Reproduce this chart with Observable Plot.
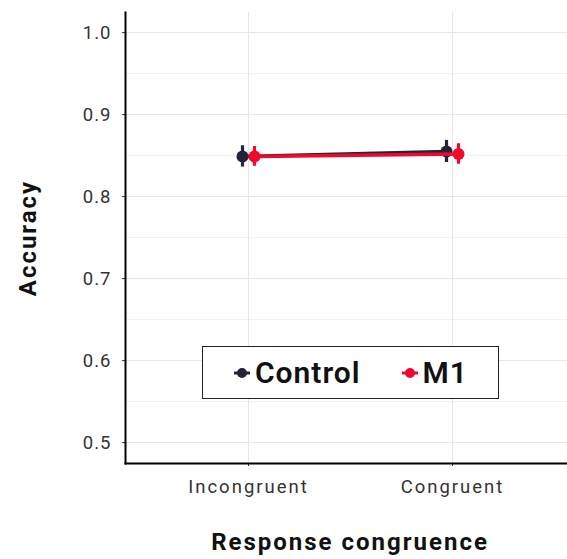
<!DOCTYPE html>
<html>
<head>
<meta charset="utf-8">
<script src="https://cdn.jsdelivr.net/npm/d3@7"></script>
<script src="https://cdn.jsdelivr.net/npm/@observablehq/plot@0.6"></script>
<style>
  html, body { margin: 0; padding: 0; background: #fff; overflow: hidden; }
  #wrap { position: relative; width: 567px; height: 559px; overflow: hidden; font-family: Roboto, "DejaVu Sans", sans-serif; }
  #chart svg { max-width: none !important; }
  #chart svg g[aria-label="y-axis tick label"] text { letter-spacing: 1px; }
  #chart svg g[aria-label="x-axis tick label"] text { letter-spacing: 2px; }
  #chart svg g[aria-label="text"] text { letter-spacing: 2px; }
  #legend { position: absolute; left: 202px; top: 346px; width: 295px; height: 51px; border: 1.5px solid #222; background: #fff;
            display: flex; align-items: center; justify-content: center; font-size: 30px; font-weight: 600; color: #111; letter-spacing: 1px; }
  #legend .item { display: flex; align-items: center; }
  #legend svg { margin-right: 4px; }
</style>
</head>
<body>
<div id="wrap">
  <div id="chart"></div>
  <div id="legend"></div>
</div>
<script>
const categories = ["Incongruent", "Congruent"];
const series = ["Control", "M1"];
const seriesColors = ["#23243a", "#f2072c"];
const controlMean = [0.849, 0.855];
const controlErr = [0.013, 0.0135];
const m1Mean = [0.849, 0.852];
const m1Err = [0.012, 0.0125];
const yTicks = [0.5, 0.6, 0.7, 0.8, 0.9, 1.0];
const yMinor = [0.55, 0.65, 0.75, 0.85, 0.95];
const xLabel = "Response congruence";
const yLabel = "Accuracy";

const rows = [];
categories.forEach((c, i) => {
  rows.push({cat: c, series: "Control", mean: controlMean[i], lo: controlMean[i] - controlErr[i], hi: controlMean[i] + controlErr[i]});
  rows.push({cat: c, series: "M1", mean: m1Mean[i], lo: m1Mean[i] - m1Err[i], hi: m1Mean[i] + m1Err[i]});
});
const dodge = {Control: -6, M1: 6};
const color = {Control: seriesColors[0], M1: seriesColors[1]};

const seriesMarks = series.flatMap(s => {
  const d = rows.filter(r => r.series === s);
  return [
    Plot.line(d, {x: "cat", y: "mean", dx: dodge[s], stroke: color[s], strokeWidth: 3.5}),
    Plot.ruleX(d, {x: "cat", y1: "lo", y2: "hi", dx: dodge[s], stroke: color[s], strokeWidth: 3.2}),
    Plot.dot(d, {x: "cat", y: "mean", dx: dodge[s], r: 6, fill: color[s], stroke: "none"})
  ];
});

const chart = Plot.plot({
  width: 574,
  height: 559,
  marginLeft: 125,
  marginRight: 0,
  marginTop: 12,
  marginBottom: 96,
  style: {fontFamily: "Roboto, 'DejaVu Sans', sans-serif", background: "#fff", overflow: "visible"},
  x: {type: "point", domain: categories, padding: 0.6},
  y: {domain: [0.4745, 1.0245]},
  marks: [
    Plot.gridY(yMinor, {stroke: "#f0f0f0", strokeOpacity: 1, strokeWidth: 1}),
    Plot.gridY(yTicks, {stroke: "#e6e6e6", strokeOpacity: 1, strokeWidth: 1}),
    Plot.gridX(categories, {stroke: "#e6e6e6", strokeOpacity: 1, strokeWidth: 1}),
    Plot.axisY(yTicks, {tickFormat: d3.format(".1f"), tickSize: 3, tickPadding: 11, fontSize: 18.5, color: "#333", label: null}),
    Plot.axisX(categories, {tickSize: 3, tickPadding: 13, fontSize: 18.5, color: "#333", label: null}),
    Plot.frame({anchor: "left", stroke: "#000", strokeWidth: 2}),
    Plot.frame({anchor: "bottom", stroke: "#000", strokeWidth: 2}),
    Plot.text([yLabel], {frameAnchor: "left", textAnchor: "middle", dx: -97, rotate: -90, fontSize: 24, fontWeight: "bold", fill: "#111"}),
    Plot.text([xLabel], {frameAnchor: "bottom", dy: 86, fontSize: 24, fontWeight: "bold", fill: "#111"}),
    ...seriesMarks
  ]
});
document.getElementById("chart").appendChild(chart);

const legend = document.getElementById("legend");
series.forEach((s, i) => {
  const item = document.createElement("div");
  item.className = "item";
  if (i > 0) item.style.marginLeft = "40px";
  item.innerHTML = `<svg width="18" height="14"><line x1="1" x2="17" y1="7" y2="7" stroke="${color[s]}" stroke-width="3"/><circle cx="9" cy="7" r="5" fill="${color[s]}"/></svg><span>${s}</span>`;
  legend.appendChild(item);
});
</script>
</body>
</html>
